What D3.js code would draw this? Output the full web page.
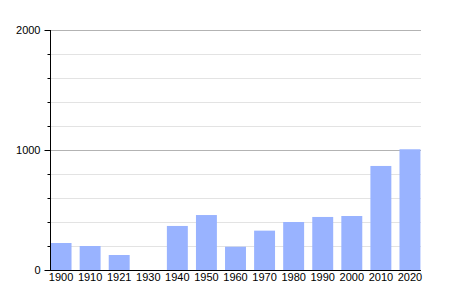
<!DOCTYPE html>
<html>
<head>
<meta charset="utf-8">
<script src="https://cdn.jsdelivr.net/npm/d3@7"></script>
<style>
  body { margin: 0; background: #fff; }
  text { font-family: "Liberation Sans", Arial, sans-serif; }
</style>
</head>
<body>
<div class="chart"></div>
<script>
var w = 450;
var h = 300;
var margin = {left: 50, right: 29, top: 30, bottom: 30};

var years = ["1900","1910","1921","1930","1940","1950","1960","1970","1980","1990","2000","2010","2020"];
var population = [225, 200, 125, null, 367, 458, 194, 328, 400, 442, 450, 867, 1006];
var majorTicks = [0, 1000, 2000];
var minorTicks = [200, 400, 600, 800, 1200, 1400, 1600, 1800];

var svg = d3.select(".chart")
            .append("svg")
            .attr("width", w)
            .attr("height", h);

var xScale = d3.scaleBand()
               .domain(years)
               .range([margin.left, w - margin.right])
               .paddingInner(0.28)
               .paddingOuter(0.02);

var yScale = d3.scaleLinear()
               .domain([0, 2000])
               .range([h - margin.bottom, margin.top]);

// light gridlines
svg.append("g")
   .selectAll("line")
   .data(minorTicks)
   .enter()
   .append("line")
   .attr("x1", margin.left)
   .attr("x2", w - margin.right)
   .attr("y1", d => yScale(d) + 0.5)
   .attr("y2", d => yScale(d) + 0.5)
   .attr("stroke", "#e3e3e3");

// darker gridlines at 1000, 2000
svg.append("g")
   .selectAll("line")
   .data(majorTicks.slice(1))
   .enter()
   .append("line")
   .attr("x1", margin.left)
   .attr("x2", w - margin.right)
   .attr("y1", d => yScale(d) + 0.5)
   .attr("y2", d => yScale(d) + 0.5)
   .attr("stroke", "#b3b3b3");

// bars
svg.append("g")
   .selectAll("rect")
   .data(years.map((y, i) => ({year: y, value: population[i]})).filter(d => d.value != null))
   .enter()
   .append("rect")
   .attr("x", d => xScale(d.year))
   .attr("width", xScale.bandwidth())
   .attr("y", d => yScale(d.value))
   .attr("height", d => yScale(0) - yScale(d.value))
   .attr("fill", "#99b3ff");

// y axis: minor ticks
svg.append("g")
   .attr("transform", `translate(${margin.left + 0.5},0)`)
   .call(d3.axisLeft(yScale).tickValues(minorTicks).tickSize(3).tickFormat(""))
   .call(g => g.select(".domain").remove());

// y axis: major ticks with labels
svg.append("g")
   .attr("transform", `translate(${margin.left + 0.5},0)`)
   .call(d3.axisLeft(yScale).tickValues(majorTicks).tickSize(6).tickPadding(4).tickFormat(d3.format("d")))
   .call(g => {
     g.select(".domain").attr("d", `M0,${yScale(2000)}V${yScale(0)}`);
     g.selectAll("text").style("font-size", "11px").attr("fill", "#000");
   });

// x axis
svg.append("g")
   .attr("transform", `translate(0,${yScale(0) + 0.5})`)
   .call(d3.axisBottom(xScale).tickSize(0).tickPadding(3))
   .call(g => {
     g.select(".domain").attr("d", `M${margin.left},0H${w - margin.right}`);
     g.selectAll("text").style("font-size", "11px").attr("fill", "#000");
   });
</script>
</body>
</html>
